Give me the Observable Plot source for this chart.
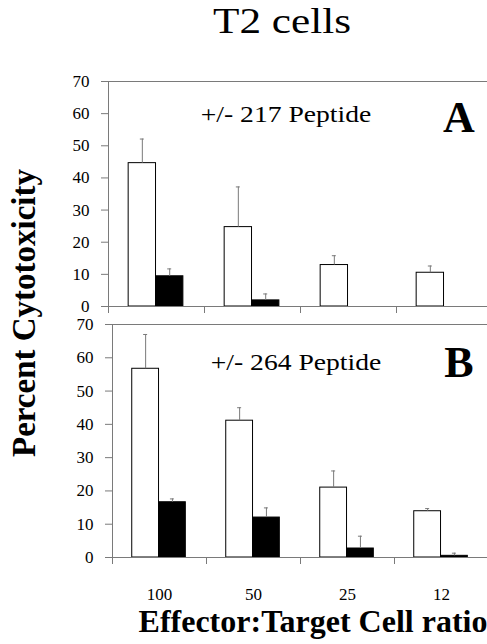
<!DOCTYPE html>
<html><head><meta charset="utf-8">
<script src="https://cdn.jsdelivr.net/npm/d3@7"></script>
<script src="https://cdn.jsdelivr.net/npm/@observablehq/plot@0.6"></script>
<style>
html,body{margin:0;padding:0;background:#fff;overflow:hidden}
#wrap{position:relative;width:487px;height:644px;overflow:hidden;color:#000;background:#fff}
.lbl{position:absolute;white-space:nowrap;line-height:1;font-family:'Liberation Serif',serif}
.panel{position:absolute;left:0}
</style></head><body>
<div id="wrap">
  <div class="lbl" style="left:282px;top:3px;font-size:36px;transform:translateX(-50%) scaleX(1.2)">T2 cells</div>
  <div class="panel" id="top" style="top:0px"></div>
  <div class="panel" id="bottom" style="top:318px"></div>
  <div class="lbl" style="left:286px;top:102px;font-size:24px;transform:translateX(-50%) scaleX(1.15)">+/- 217 Peptide</div>
  <div class="lbl" style="left:296px;top:350px;font-size:24px;transform:translateX(-50%) scaleX(1.15)">+/- 264 Peptide</div>
  <div class="lbl" style="left:459px;top:96px;font-size:44px;font-weight:bold;transform:translateX(-50%)">A</div>
  <div class="lbl" style="left:459px;top:341px;font-size:44px;font-weight:bold;transform:translateX(-50%)">B</div>
  <div class="lbl" style="left:24px;top:313px;font-size:33px;font-weight:bold;transform:translate(-50%,-50%) rotate(-90deg)">Percent Cytotoxicity</div>
  <div class="lbl" style="left:313px;top:605px;font-size:32px;font-weight:bold;transform:translateX(-50%)">Effector:Target Cell ratio</div>
</div>
<script>
// Effector:Target ratios (x categories)
const categories = ["100", "50", "25", "12"];
const yTicks = [0, 10, 20, 30, 40, 50, 60, 70];

// Panel A: +/- 217 peptide
const withPep217 = [44.6, 24.7, 12.9, 10.5];
const withPep217Err = [7.5, 12.5, 2.9, 2.1];
const noPep217 = [9.4, 1.9, 0, 0];
const noPep217Err = [2.3, 2.0, 0, 0];

// Panel B: +/- 264 peptide
const withPep264 = [56.7, 41.1, 21.0, 13.9];
const withPep264Err = [10.3, 3.9, 5.0, 0.8];
const noPep264 = [16.6, 12.0, 2.7, 0.5];
const noPep264Err = [1.0, 2.9, 3.7, 0.8];

const grey = "#7a7a7a";

function panel({withVals, withErr, noVals, noErr, marginLeft, band, height, marginTop, marginBottom, showLabels}) {
  const rowsWith = categories.map((c, i) => ({cat: c, v: withVals[i], e: withErr[i]}));
  const rowsNo = categories.map((c, i) => ({cat: c, v: noVals[i], e: noErr[i]}));
  const pad = band * 0.21, bw = band * 0.285;
  const cW = pad + bw / 2, cN = pad + bw * 1.5;
  const errMarks = (rows, c) => [
    Plot.ruleX(rows.filter(d => d.e > 0), {x: "cat", y1: "v", y2: d => d.v + d.e, dx: c - band / 2, stroke: grey, strokeWidth: 1}),
    Plot.tickY(rows.filter(d => d.e > 0), {x: "cat", y: d => d.v + d.e, insetLeft: c - 2, insetRight: band - c - 2, stroke: grey, strokeWidth: 1})
  ];
  const marks = [
    Plot.barY(rowsWith, {x: "cat", y: "v", fill: "white", stroke: "black", strokeWidth: 1, insetLeft: pad, insetRight: band - pad - bw}),
    Plot.barY(rowsNo.filter(d => d.v > 0), {x: "cat", y: "v", fill: "black", stroke: "black", strokeWidth: 1, insetLeft: pad + bw, insetRight: band - pad - 2 * bw}),
    ...errMarks(rowsWith, cW),
    ...errMarks(rowsNo, cN),
    Plot.frame({anchor: "left", stroke: grey}),
    Plot.frame({anchor: "top", stroke: grey}),
    Plot.frame({anchor: "bottom", stroke: grey}),
    Plot.axisY({ticks: yTicks, tickSize: 7, tickPadding: 12, stroke: grey, fill: "black", label: null, fontFamily: "Liberation Serif", fontSize: 17}),
    Plot.axisX({tickSize: 7, dx: -band / 2, tickFormat: () => "", stroke: grey, label: null})
  ];
  if (showLabels) marks.push(Plot.axisX({tickSize: 0, tickPadding: 30, fill: "black", label: null, fontFamily: "Liberation Serif", fontSize: 17}));
  return Plot.plot({
    width: marginLeft + band * categories.length,
    height, marginLeft, marginRight: 0, marginTop, marginBottom,
    x: {type: "band", domain: categories, padding: 0},
    y: {domain: [0, 70]},
    style: {background: "transparent", maxWidth: "none", fontFamily: "'Liberation Serif', serif", fontSize: "17px", color: "black", overflow: "visible"},
    marks
  });
}

document.getElementById("top").append(panel({
  withVals: withPep217, withErr: withPep217Err, noVals: noPep217, noErr: noPep217Err,
  marginLeft: 108, band: 96, height: 318, marginTop: 81, marginBottom: 12, showLabels: false
}));
document.getElementById("bottom").append(panel({
  withVals: withPep264, withErr: withPep264Err, noVals: noPep264, noErr: noPep264Err,
  marginLeft: 112, band: 94, height: 290, marginTop: 6, marginBottom: 51, showLabels: true
}));
</script>
</body></html>
